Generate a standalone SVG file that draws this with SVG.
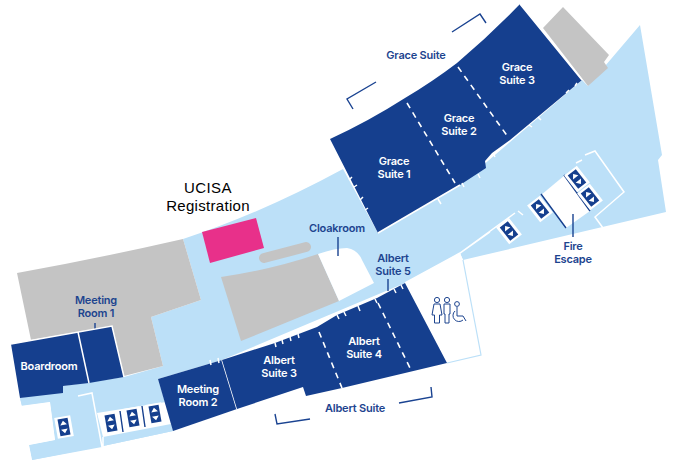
<svg xmlns="http://www.w3.org/2000/svg" width="677" height="466" viewBox="0 0 677 466">
<style>
.lb{fill:#bce0f8}.db{fill:#153f8e}.gr{fill:#c4c4c4}.wh{fill:#fff}
.wl{fill:none;stroke:#fff;stroke-width:1.5}
.da{fill:none;stroke:#fff;stroke-width:1.6;stroke-dasharray:6 5}
.dl{fill:none;stroke:#1a4391;stroke-width:1.4}
.t{font-family:"Inter","Liberation Sans",sans-serif;font-size:11px;font-weight:600;text-anchor:middle;letter-spacing:-.2px}
.tw{fill:#fff}.tb{fill:#1d448f}
.ic{fill:none;stroke:#1d448f;stroke-width:1}
</style>
<defs>
<g id="lift"><rect x="-9.5" y="-12.5" width="19" height="25" fill="#fff"/><rect x="-6" y="-10" width="12" height="20" class="db"/><path d="M0-7.5 4-2.5H-4ZM0 7.5 4 2.5H-4Z" fill="#fff"/></g>
</defs>
<rect width="677" height="466" fill="#fff"/>
<g id="floor">
<path class="lb" d="M183,239 Q262,213 343,169 L378,233 L460,185 L582,80 L588,86 L640,25 L662,155 L658,160 L666,212 L463,260 L460,253 L405,283 L222,360 L158,379 L173,431 L103,446 L97,413 L102,447 L32,460 L29,445 L55,440 L50,402 L22,406 L20,398 L63,393 L63,386 L124,377 L163,366 L151,317 L201,300 Z"/>
<path class="lb" d="M20,398 L124,377 L158,379 L173,431 L103,446 L97,447 L32,460 L29,445 L55,440 L50,402 L22,406Z"/>
<path class="gr" d="M17,273 Q100,258 183,239 L201,300 L151,317 L163,366 L124,376 L112,326 L31,340Z"/>
<path class="gr" d="M221,277 Q270,270 318,254 L339,301 L241,341Z"/>
<path class="gr" d="M563,7 L609,55 L604,62 L608,68 L588,86 L543,28Z"/>
<path d="M264,258 L306,247" fill="none" stroke="#c4c4c4" stroke-width="10" stroke-linecap="round"/>
<path class="wh" d="M318,254 Q335,248 347,248 Q358,250 362,260 L374,283 L339,301Z"/>
<path class="wh" d="M405,283 L460,253 L463,260 L481,355 L447,363Z"/>
<path d="M463,260 L481,355 L447,363" fill="none" stroke="#bce0f8" stroke-width="1.2"/>
<path class="wh" d="M97,413 L166,402 L171,424 L103,437Z"/>
<path class="wh" d="M50,402 L20,406 L0,410 V466 L32,460 L29,445 L55,440Z"/>
<path class="wl" d="M78,396 L92,393 L102,447 M103,437 L103,446"/>
<path class="wl" d="M405,283 L460,253 L490,232 M460,253 L515,213 M518,211 L523,215 M576,163 L582,160 M585,155 L595,151 L624,192 L595,217 L603,228"/>
<path class="wh" d="M541,195 L565,175 L590,211 L566,228Z"/>
<path d="M541,194 L566,228 M564,175 L590,211" fill="none" stroke="#153f8e" stroke-width="1.4"/>
<path d="M120,411 L123,432 M142,406 L145,427" fill="none" stroke="#153f8e" stroke-width="1.4"/>
</g>
<g id="connectors">
<path class="dl" d="M95,323V330M338,237V256M388,279V291M573,214V237"/>
<path class="dl" d="M353,109 L347,99 L376,82M452,32 L480,14 L486,23M275,414 L277,424 L310,419M399,403 L432,397 L431,387"/>
</g>
<g id="registration"><path fill="#e8308a" d="M202,232 L256,218 L264,248 L210,263Z"/>
<text x="208" y="193" font-family="Liberation Sans,sans-serif" font-size="15" letter-spacing=".4" text-anchor="middle">UCISA</text>
<text x="208" y="211" font-family="Liberation Sans,sans-serif" font-size="15" letter-spacing=".3" text-anchor="middle">Registration</text></g>
<g id="boardroom"><path class="db" d="M11,344 L78,332 L89,383 L63,386 L63,393 L20,398Z"/><text class="t tw" x="49" y="370">Boardroom</text></g>
<g id="meeting-room-1"><path class="db" d="M78,332 L112,326 L124,377 L89,383Z"/><path class="wl" d="M78,332 L89,383M11,344 L112,326 L124,377"/><text class="t tb" x="96" y="304">Meeting</text><text class="t tb" x="96" y="317">Room 1</text></g>
<g id="meeting-room-2"><path class="db" d="M158,379 L222,360 L237,409 L173,431Z"/><path class="wl" d="M222,360 L237,409M210,360 L211,365M218,358 L219,363"/><text class="t tw" x="198" y="393">Meeting</text><text class="t tw" x="198" y="406">Room 2</text></g>
<g id="albert-suite"><path class="db" d="M222,360 L275,343 L317,327 L337,315 L377,298 L405,283 L447,363 L342,388 L306,396 L303,387 L237,409Z"/>
<path class="da" d="M319,332 L342,388M378,303 L411,370"/>
<path class="wl" d="M275,343 L276,347M282,340 L283,344M290,337 L291,341M298,334 L299,338M337,315 L339,319M344,312 L346,316M358,306 L360,311M375,299 L377,303M394,289 L396,293M401,285 L403,289"/>
<text class="t tw" x="279" y="363.5">Albert</text><text class="t tw" x="279" y="376.5">Suite 3</text>
<text class="t tw" x="364" y="345">Albert</text><text class="t tw" x="364" y="358">Suite 4</text>
<text class="t tb" x="393" y="262">Albert</text><text class="t tb" x="393" y="275">Suite 5</text>
<text class="t tb" x="355" y="412">Albert Suite</text></g>
<g id="grace-suite"><path class="db" d="M330,139 Q369,121 405,98 Q432,82 457,63 Q490,35 520,4 L582,80 L510,140 L492,153 L485,161 L486,168 L460,185 L378,233Z"/>
<path class="da" d="M407,103 L455,183M458,67 L508,137"/>
<path class="wl" d="M349,180 L352,177M354,187 L357,185M360,200 L363,197M365,210 L368,208M438,199 L441,204M462,183 L464,187M478,174 L480,178M493,153 L495,157M529,125 L532,127M538,117 L541,120M566,93 L569,90M575,86 L577,83M378,233 L460,185M582,80 L520,4"/>
<text class="t tw" x="394" y="164.5">Grace</text><text class="t tw" x="394" y="177.5">Suite 1</text>
<text class="t tw" x="459" y="122">Grace</text><text class="t tw" x="459" y="135">Suite 2</text>
<text class="t tw" x="517" y="70.5">Grace</text><text class="t tw" x="517" y="83.5">Suite 3</text>
<text class="t tb" x="416" y="59">Grace Suite</text></g>
<g id="cloakroom"><text class="t tb" x="337" y="232">Cloakroom</text></g>
<g id="fire-escape"><text class="t tb" x="573" y="249.5">Fire</text><text class="t tb" x="573" y="262.5">Escape</text></g>
<g id="lifts">
<use href="#lift" transform="translate(64,427) rotate(-10) scale(.85)"/>
<use href="#lift" transform="translate(111,423) rotate(-10) scale(.85)"/>
<use href="#lift" transform="translate(133,418) rotate(-10) scale(.85)"/>
<use href="#lift" transform="translate(155,414) rotate(-10) scale(.85)"/>
<use href="#lift" transform="translate(509,231) rotate(-38) scale(.85)"/>
<use href="#lift" transform="translate(540,209) rotate(-38) scale(.85)"/>
<use href="#lift" transform="translate(577,179) rotate(-38) scale(.85)"/>
<use href="#lift" transform="translate(590,197) rotate(-38) scale(.85)"/>
</g>
<g id="toilets"><g class="ic">
<circle cx="437" cy="300" r="2.6"/><path d="M434,304 H440 L442,315 L439.5,315 V323 H434.5 V315 L432,315Z"/>
<circle cx="447" cy="300" r="2.6"/><path d="M444,304 H450 V314 H449 V323 H445 V314 H444Z"/>
<circle cx="457" cy="304" r="2.4"/><path d="M457,307 V316 H463 L466,321M455,311 A6,6 0 1 0 463,320"/>
</g></g>
</svg>
